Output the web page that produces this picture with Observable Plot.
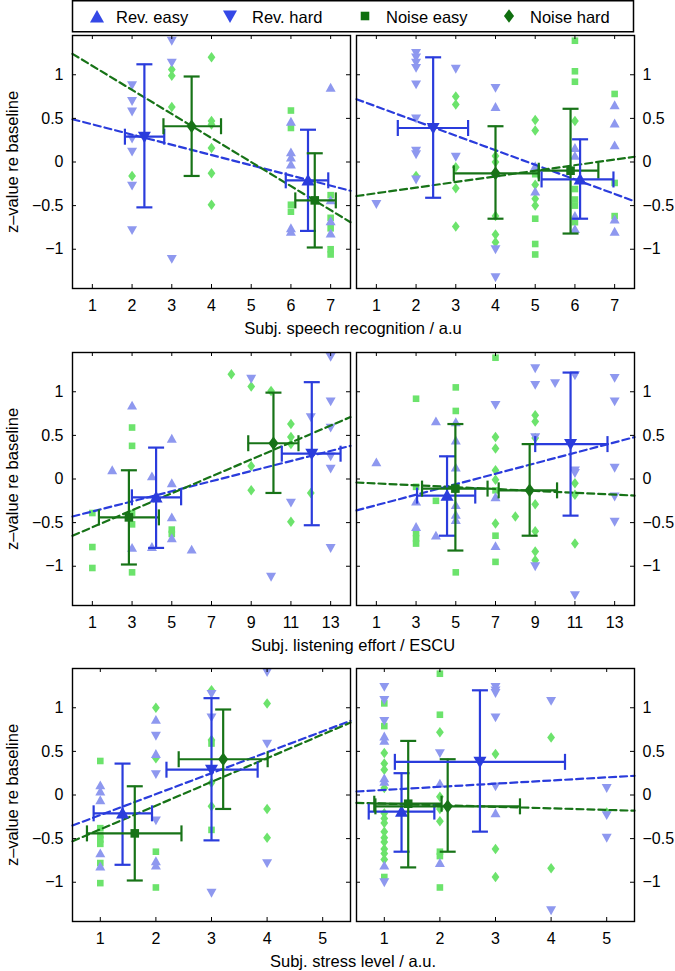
<!DOCTYPE html>
<html><head><meta charset="utf-8">
<script src="https://cdn.jsdelivr.net/npm/d3@7"></script>
<script src="https://cdn.jsdelivr.net/npm/@observablehq/plot@0.6"></script>
<style>
body{margin:0;background:#fff;font-family:"Liberation Sans",Arial,sans-serif;}
#root{position:relative;width:675px;height:971px;overflow:hidden;background:#fff;}
.xlab{position:absolute;font-size:16.5px;line-height:20px;height:20px;white-space:nowrap;transform:translateX(-50%);color:#000;}
.ylab{position:absolute;font-size:16.5px;line-height:20px;height:20px;width:220px;text-align:center;transform:rotate(-90deg);color:#000;white-space:nowrap;}
</style></head><body><div id="root"></div>
<script>
// ---------- DATA ----------
const legendLabels = ["Rev. easy", "Rev. hard", "Noise easy", "Noise hard"];
const legendCodes = ["RE", "RH", "NE", "NH"];
const yLabel = "z\u2013value re baseline";
const xLabels = ["Subj. speech recognition / a.u", "Subj. listening effort / ESCU", "Subj. stress level / a.u."];
const xDomains = [[0.5, 7.5], [0, 14], [0.5, 5.5]];
const xTicks = [[1, 2, 3, 4, 5, 6, 7], [1, 3, 5, 7, 9, 11, 13], [1, 2, 3, 4, 5]];
const yTicks = [-1, -0.5, 0, 0.5, 1];
const yDomain = [-1.45, 1.45];

// individual points: [condition, x, z]
const pointsSpeechL = [
  ["RH",2,0.88],["RH",2,0.70],["RH",2,0.58],["RH",2,0.27],["RH",2,0.12],["RH",2,-0.27],["RH",2,-0.78],["RH",3,1.39],["RH",3,1.14],["RH",3,-1.11],
  ["NH",2,-0.16],["NH",3,1.06],["NH",3,0.99],["NH",3,0.63],["NH",4,1.20],["NH",4,0.47],["NH",4,0.43],["NH",4,0.16],["NH",4,-0.13],["NH",4,-0.49],
  ["RE",6,0.46],["RE",6,0.11],["RE",6,0.05],["RE",6,-0.03],["RE",6,-0.76],["RE",6,-0.80],["RE",7,0.85],["RE",7,-0.44],["RE",7,-0.68],["RE",7,-0.82],
  ["NE",6,0.59],["NE",6,0.39],["NE",6,-0.49],["NE",6,-0.57],["NE",7,-0.38],["NE",7,-0.64],["NE",7,-0.76],["NE",7,-1.00],["NE",7,-1.06]
];
const pointsSpeechR = [
  ["RH",1,-0.48],["RH",2,1.25],["RH",2,1.20],["RH",2,1.14],["RH",2,1.08],["RH",2,0.89],["RH",2,0.50],["RH",2,0.13],["RH",2,0.09],["RH",2,-0.20],["RH",3,1.07],["RH",3,0.06],["RH",4,0.85],["RH",4,-1.00],["RH",4,-1.32],
  ["NH",2,-0.16],["NH",3,0.75],["NH",3,0.66],["NH",3,-0.06],["NH",3,-0.30],["NH",3,-0.74],["NH",4,0.07],["NH",4,0.00],["NH",4,-0.62],["NH",4,-0.83],["NH",4,-0.92],["NH",5,0.48],["NH",5,0.36],["NH",5,-0.26],["NH",5,-0.42],["NH",5,-0.50],["NH",6,0.47],
  ["RE",4,0.63],["RE",4,-0.13],["RE",5,-0.05],["RE",5,-0.34],["RE",6,0.16],["RE",6,0.07],["RE",6,-0.62],["RE",6,-0.77],["RE",7,0.65],["RE",7,0.44],["RE",7,0.19],["RE",7,-0.66],["RE",7,-0.80],
  ["NE",5,-0.14],["NE",5,-0.65],["NE",5,-0.94],["NE",5,-1.06],["NE",6,1.39],["NE",6,1.04],["NE",6,0.92],["NE",6,-0.31],["NE",6,-0.43],["NE",6,-0.50],["NE",6,-0.69],["NE",7,0.78],["NE",7,-0.24],["NE",7,-0.62]
];
const pointsEffortL = [
  ["NE",1,-0.39],["NE",1,-0.78],["NE",1,-1.02],["NE",3,0.59],["NE",3,0.38],["NE",3,-0.39],["NE",3,-0.52],["NE",3,-1.07],["NE",5,-0.58],["NE",5,-0.63],
  ["RE",2,0.10],["RE",3,0.84],["RE",3,-0.79],["RE",4,0.03],["RE",4,-0.78],["RE",5,0.46],["RE",5,-0.05],["RE",5,-0.44],["RE",5,-0.68],["RE",6,-0.81],
  ["NH",8,1.20],["NH",9,1.06],["NH",9,0.15],["NH",9,-0.13],["NH",10,1.01],["NH",11,0.63],["NH",11,0.48],["NH",11,0.40],["NH",11,-0.49],["NH",12,-0.16],
  ["RH",9,1.15],["RH",10,-1.12],["RH",11,-0.27],["RH",12,0.71],["RH",13,1.40],["RH",13,0.89],["RH",13,0.59],["RH",13,0.26],["RH",13,0.12],["RH",13,-0.79]
];
const pointsEffortR = [
  ["RE",1,0.19],["RE",3,-0.26],["RE",3,-0.55],["RE",4,0.66],["RE",4,-0.65],["RE",5,0.65],["RE",5,0.44],["RE",5,0.13],["RE",5,-0.30],["RE",5,-0.41],["RE",5,-0.47],["RE",7,-0.21],["RE",7,-0.77],
  ["NE",3,0.92],["NE",3,-0.09],["NE",3,-0.62],["NE",3,-0.68],["NE",3,-0.74],["NE",4,-0.25],["NE",5,1.05],["NE",5,0.78],["NE",5,-1.07],["NE",7,1.39],["NE",7,-0.13],["NE",7,-0.65],["NE",7,-0.95],
  ["NH",7,0.48],["NH",7,0.35],["NH",7,0.10],["NH",7,-0.01],["NH",7,-0.51],["NH",8,-0.43],["NH",9,0.73],["NH",9,0.66],["NH",9,0.47],["NH",9,-0.29],["NH",9,-0.60],["NH",9,-0.83],["NH",9,-0.93],["NH",11,-0.05],["NH",11,-0.18],["NH",11,-0.74],
  ["RH",7,0.85],["RH",9,1.27],["RH",9,1.08],["RH",9,0.48],["RH",9,-1.00],["RH",10,1.10],["RH",11,1.19],["RH",11,0.10],["RH",11,0.07],["RH",11,-1.33],["RH",13,1.16],["RH",13,0.89],["RH",13,0.13],["RH",13,-0.20],["RH",13,-0.49]
];
const pointsStressL = [
  ["NE",1,0.39],["NE",1,-0.38],["NE",1,-0.46],["NE",1,-0.51],["NE",1,-0.56],["NE",1,-0.78],["NE",1,-1.01],["NE",2,-0.65],["NE",2,-1.06],["NE",3,0.59],["NE",3,-0.40],
  ["RE",1,0.11],["RE",1,0.04],["RE",1,-0.06],["RE",1,-0.67],["RE",1,-0.82],["RE",2,0.86],["RE",2,0.47],["RE",2,-0.76],["RE",2,-0.81],
  ["NH",2,1.00],["NH",2,0.42],["NH",3,1.20],["NH",3,0.63],["NH",3,0.14],["NH",3,-0.13],["NH",4,1.05],["NH",4,-0.16],["NH",4,-0.49],
  ["RH",2,0.68],["RH",2,0.24],["RH",2,-0.29],["RH",3,1.16],["RH",3,0.89],["RH",3,-1.12],["RH",4,1.41],["RH",4,0.59],["RH",4,-0.78]
];
const pointsStressR = [
  ["RH",1,1.24],["RH",1,1.09],["RH",1,0.85],["RH",1,-1.00],["RH",2,0.48],["RH",3,1.24],["RH",3,1.20],["RH",3,1.17],["RH",3,0.89],["RH",3,0.10],["RH",4,1.08],["RH",4,-1.32],["RH",5,0.08],["RH",5,-0.23],["RH",5,-0.49],
  ["NE",1,1.05],["NE",1,0.79],["NE",1,-0.94],["NE",2,1.39],["NE",2,0.92],["NE",2,-0.65],["NE",2,-0.70],["NE",2,-1.06],
  ["RE",1,0.67],["RE",1,0.62],["RE",1,0.19],["RE",1,0.15],["RE",1,-0.81],["RE",2,0.13],["RE",2,-0.78],["RE",3,-0.21],
  ["NH",1,0.48],["NH",1,0.36],["NH",1,0.29],["NH",1,0.08],["NH",1,-0.21],["NH",1,-0.27],["NH",1,-0.32],["NH",1,-0.42],["NH",1,-0.49],["NH",1,-0.54],["NH",1,-0.62],["NH",1,-0.67],["NH",1,-0.74],
  ["NH",2,0.72],["NH",2,-0.02],["NH",2,-0.16],["NH",2,-0.30],["NH",3,0.47],["NH",3,-0.62],["NH",3,-0.94],["NH",4,0.66],["NH",4,-0.84],["NH",5,-0.20]
];

// group means: [condition, x, z, xLow, xHigh, zLow, zHigh]
const meansSpeechL = [["RH",2.31,0.29,1.82,2.81,-0.52,1.12],["NH",3.50,0.41,2.79,4.24,-0.16,0.98],["RE",6.43,-0.21,5.87,6.94,-0.79,0.37],["NE",6.60,-0.44,6.11,7.13,-0.98,0.10]];
const meansSpeechR = [["RH",2.43,0.39,1.54,3.31,-0.41,1.20],["NH",4.00,-0.13,2.95,5.09,-0.65,0.41],["NE",5.89,-0.10,5.09,6.59,-0.82,0.61],["RE",6.13,-0.20,5.16,6.97,-0.65,0.26]];
const meansEffortL = [["NE",2.84,-0.44,1.33,4.35,-0.98,0.10],["RE",4.21,-0.21,2.99,5.47,-0.79,0.36],["NH",10.12,0.41,8.85,11.38,-0.16,0.99],["RH",12.05,0.29,10.54,13.50,-0.53,1.11]];
const meansEffortR = [["RE",4.56,-0.19,3.05,5.98,-0.65,0.26],["NE",4.98,-0.11,3.30,6.60,-0.82,0.63],["NH",8.72,-0.13,7.16,10.10,-0.65,0.40],["RH",10.78,0.40,9.00,12.64,-0.42,1.22]];
const meansStressL = [["RE",1.40,-0.21,0.88,1.93,-0.80,0.36],["NE",1.62,-0.44,0.76,2.46,-0.98,0.10],["RH",3.00,0.29,2.19,3.83,-0.52,1.11],["NH",3.21,0.41,2.41,4.01,-0.16,0.98]];
const meansStressR = [["RE",1.31,-0.19,0.72,1.90,-0.65,0.25],["NE",1.43,-0.10,0.82,2.03,-0.83,0.62],["NH",2.14,-0.13,0.84,3.44,-0.65,0.41],["RH",2.72,0.38,1.19,4.25,-0.42,1.20]];

// regression lines: [group, x0, z0, x1, z1]
const trendsSpeechL = [["R",0.5,0.49,7.5,-0.33],["N",0.5,1.24,7.5,-0.69]];
const trendsSpeechR = [["R",0.5,0.72,7.5,-0.45],["N",0.5,-0.39,7.5,0.06]];
const trendsEffortL = [["R",0,-0.43,14,0.38],["N",0,-0.65,14,0.71]];
const trendsEffortR = [["R",0,-0.36,14,0.48],["N",0,-0.04,14,-0.19]];
const trendsStressL = [["R",0.5,-0.35,5.5,0.85],["N",0.5,-0.53,5.5,0.83]];
const trendsStressR = [["R",0.5,0.04,5.5,0.22],["N",0.5,-0.09,5.5,-0.18]];

// ---------- STYLE ----------
const BLUE = "#2a3cdc", GREEN = "#177317", LBLUE = "#8e98ef", LGREEN = "#6ce36c";
const LEG_BLUE = "#3448e6", LEG_GREEN = "#0f6f0f";
const FONT = '"Liberation Sans", Arial, Helvetica, sans-serif';
const fmt = d3.format("");
const rr = s => Math.sqrt(s / Math.PI);
const SYM = {
  up: {draw(c, s) { const r = rr(s); c.moveTo(0, -r); c.lineTo(r, 0.78 * r); c.lineTo(-r, 0.78 * r); c.closePath(); }},
  down: {draw(c, s) { const r = rr(s); c.moveTo(0, r); c.lineTo(r, -0.78 * r); c.lineTo(-r, -0.78 * r); c.closePath(); }},
  square: {draw(c, s) { const r = rr(s) * 0.66; c.moveTo(-r, -r); c.lineTo(r, -r); c.lineTo(r, r); c.lineTo(-r, r); c.closePath(); }},
  diamond: {draw(c, s) { const r = rr(s); c.moveTo(0, -1.05 * r); c.lineTo(0.78 * r, 0); c.lineTo(0, 1.05 * r); c.lineTo(-0.78 * r, 0); c.closePath(); }},
  vcap: {draw(c, s) { const r = rr(s); c.moveTo(0, -r); c.lineTo(0, r); }},
  hcap: {draw(c, s) { const r = rr(s); c.moveTo(-r, 0); c.lineTo(r, 0); }}
};
const STY = {
  RE: {pt: LBLUE, mean: BLUE, sym: "up"},
  RH: {pt: LBLUE, mean: BLUE, sym: "down"},
  NE: {pt: LGREEN, mean: GREEN, sym: "square"},
  NH: {pt: LGREEN, mean: GREEN, sym: "diamond"}
};

const root = document.getElementById("root");

// ---------- LEGEND ----------
(function legend() {
  const svg = d3.create("svg").attr("width", 675).attr("height", 34)
    .style("position", "absolute").style("left", "0px").style("top", "0px");
  svg.append("rect").attr("x", 72.5).attr("y", 0.75).attr("width", 561).attr("height", 31)
    .attr("fill", "#fff").attr("stroke", "#000").attr("stroke-width", 1.5);
  const mx = [97, 230, 365, 509], tx = [116, 252, 386, 530];
  legendCodes.forEach((k, i) => {
    const col = k[0] === "R" ? LEG_BLUE : LEG_GREEN;
    const size = Math.PI * (k[0] === "R" ? 7 : 6.5) ** 2;
    svg.append("path").attr("d", d3.symbol(SYM[STY[k].sym], size)())
      .attr("transform", `translate(${mx[i]},${k === "RE" ? 17 : 16})`).attr("fill", col);
    svg.append("text").attr("x", tx[i]).attr("y", 22.5).attr("font-family", FONT)
      .attr("font-size", 16.5).attr("fill", "#000").text(legendLabels[i]);
  });
  root.appendChild(svg.node());
})();

// ---------- PANELS ----------
const FH = 253;
const rowTops = [35, 352, 668];
const panels = [
  [pointsSpeechL, meansSpeechL, trendsSpeechL], [pointsSpeechR, meansSpeechR, trendsSpeechR],
  [pointsEffortL, meansEffortL, trendsEffortL], [pointsEffortR, meansEffortR, trendsEffortR],
  [pointsStressL, meansStressL, trendsStressL], [pointsStressR, meansStressR, trendsStressR]
];

panels.forEach(([pts, means, trends], idx) => {
  const row = Math.floor(idx / 2), side = idx % 2 === 0 ? "left" : "right";
  const geo = side === "left" ? {left: 0, width: 353, ml: 72, mr: 3} : {left: 353, width: 322, ml: 3, mr: 41};
  const FW = geo.width - geo.ml - geo.mr;
  const marks = [];
  for (const k of ["NE", "NH", "RE", "RH"]) {
    marks.push(Plot.dot(pts.filter(d => d[0] === k), {
      x: d => d[1], y: d => d[2], symbol: SYM[STY[k].sym], r: 5, fill: STY[k].pt, stroke: "none"
    }));
  }
  for (const t of trends) {
    marks.push(Plot.line([[t[1], t[2]], [t[3], t[4]]], {
      x: d => d[0], y: d => d[1], stroke: t[0] === "R" ? BLUE : GREEN, strokeWidth: 2.2, strokeDasharray: "7,4"
    }));
  }
  for (const m of means) {
    const col = STY[m[0]].mean;
    const M = [m];
    marks.push(Plot.ruleY(M, {y: d => d[2], x1: d => d[3], x2: d => d[4], stroke: col, strokeWidth: 2.2}));
    marks.push(Plot.ruleX(M, {x: d => d[1], y1: d => d[5], y2: d => d[6], stroke: col, strokeWidth: 2.2}));
    marks.push(Plot.dot(M, {x: d => d[3], y: d => d[2], symbol: SYM.vcap, r: 8, fill: "none", stroke: col, strokeWidth: 2.2}));
    marks.push(Plot.dot(M, {x: d => d[4], y: d => d[2], symbol: SYM.vcap, r: 8, fill: "none", stroke: col, strokeWidth: 2.2}));
    marks.push(Plot.dot(M, {x: d => d[1], y: d => d[5], symbol: SYM.hcap, r: 8, fill: "none", stroke: col, strokeWidth: 2.2}));
    marks.push(Plot.dot(M, {x: d => d[1], y: d => d[6], symbol: SYM.hcap, r: 8, fill: "none", stroke: col, strokeWidth: 2.2}));
    marks.push(Plot.dot(M, {x: d => d[1], y: d => d[2], symbol: SYM[STY[m[0]].sym], r: 6.5, fill: col, stroke: "none"}));
  }
  const xt = xTicks[row];
  marks.push(Plot.tickX(xt, {x: d => d, insetTop: FH - 4, stroke: "#000", strokeWidth: 1}));
  marks.push(Plot.tickX(xt, {x: d => d, insetBottom: FH - 4, stroke: "#000", strokeWidth: 1}));
  marks.push(Plot.tickY(yTicks, {y: d => d, insetRight: FW - 4, stroke: "#000", strokeWidth: 1}));
  marks.push(Plot.tickY(yTicks, {y: d => d, insetLeft: FW - 4, stroke: "#000", strokeWidth: 1}));
  marks.push(Plot.frame({stroke: "#000", strokeWidth: 1.4}));

  const chart = Plot.plot({
    width: geo.width, height: FH + 32,
    marginLeft: geo.ml, marginRight: geo.mr, marginTop: 4, marginBottom: 28,
    x: {domain: xDomains[row], ticks: xt, tickFormat: fmt, tickSize: 0, tickPadding: 11, label: null},
    y: {domain: yDomain, ticks: yTicks, tickFormat: fmt, tickSize: 0, tickPadding: side === "left" ? 9 : 8, axis: side, label: null},
    style: {fontFamily: FONT, fontSize: "16px", color: "#000", background: "transparent", overflow: "visible"},
    marks
  });
  chart.style.position = "absolute";
  chart.style.left = geo.left + "px";
  chart.style.top = (rowTops[row] - 4) + "px";
  root.appendChild(chart);

  if (side === "left") {
    const yl = document.createElement("div");
    yl.className = "ylab";
    yl.textContent = yLabel;
    yl.style.left = (12 - 110) + "px";
    yl.style.top = (rowTops[row] + FH / 2 - 10) + "px";
    root.appendChild(yl);
    const xl = document.createElement("div");
    xl.className = "xlab";
    xl.textContent = xLabels[row];
    xl.style.left = "353px";
    xl.style.top = (rowTops[row] + FH + 30) + "px";
    root.appendChild(xl);
  }
});
</script></body></html>
